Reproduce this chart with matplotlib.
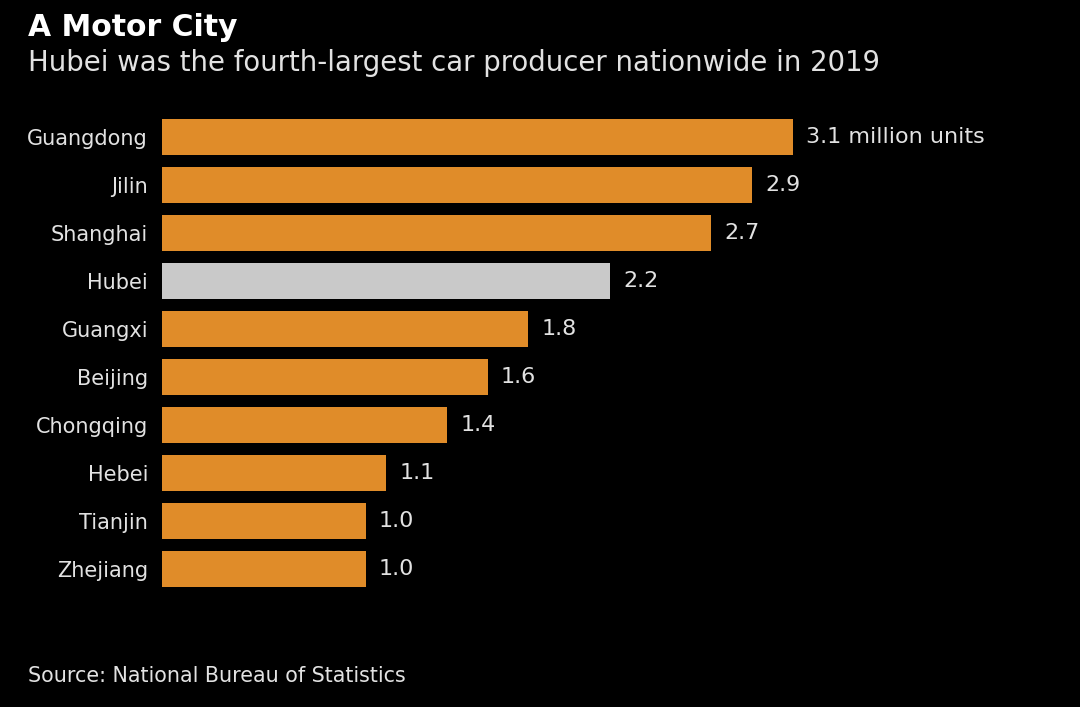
import matplotlib.pyplot as plt

provinces = ["Guangdong", "Jilin", "Shanghai", "Hubei", "Guangxi",
             "Beijing", "Chongqing", "Hebei", "Tianjin", "Zhejiang"]
units = [3.1, 2.9, 2.7, 2.2, 1.8, 1.6, 1.4, 1.1, 1.0, 1.0]
value_labels = ["3.1 million units", "2.9", "2.7", "2.2", "1.8",
                "1.6", "1.4", "1.1", "1.0", "1.0"]
highlight = "Hubei"

ORANGE = "#e08c29"
GREY = "#c9c9c9"
TEXT = "#e2e2e2"

fig = plt.figure(figsize=(10.8, 7.07), dpi=100, facecolor="black")
ax = fig.add_axes([162 / 1080, 1 - 593 / 707, 1 - 162 / 1080, 480 / 707])
ax.set_facecolor("black")

colors = [GREY if p == highlight else ORANGE for p in provinces]
ypos = list(range(len(provinces)))
ax.barh(ypos, units, height=0.77, color=colors)

for y, v, lab in zip(ypos, units, value_labels):
    ax.text(v + 0.065, y, lab, color=TEXT, fontsize=16, va="center", ha="left")

ax.set_xlim(0, (1080 - 162) / 203.5)
ax.set_ylim(len(provinces) - 0.5, -0.5)
ax.set_yticks(ypos)
ax.set_yticklabels(provinces, color=TEXT, fontsize=15)
ax.tick_params(axis="y", length=0, pad=10)
ax.set_xticks([])
for s in ax.spines.values():
    s.set_visible(False)

fig.text(28 / 1080, 1 - 28 / 707, "A Motor City", color="white",
         fontsize=21.5, fontweight="bold", va="center", ha="left")
fig.text(28 / 1080, 1 - 63 / 707,
         "Hubei was the fourth-largest car producer nationwide in 2019",
         color=TEXT, fontsize=19.8, va="center", ha="left")
fig.text(28 / 1080, 1 - 676 / 707, "Source: National Bureau of Statistics",
         color=TEXT, fontsize=14.9, va="center", ha="left")

fig.savefig("out.png", dpi=100, facecolor="black")
